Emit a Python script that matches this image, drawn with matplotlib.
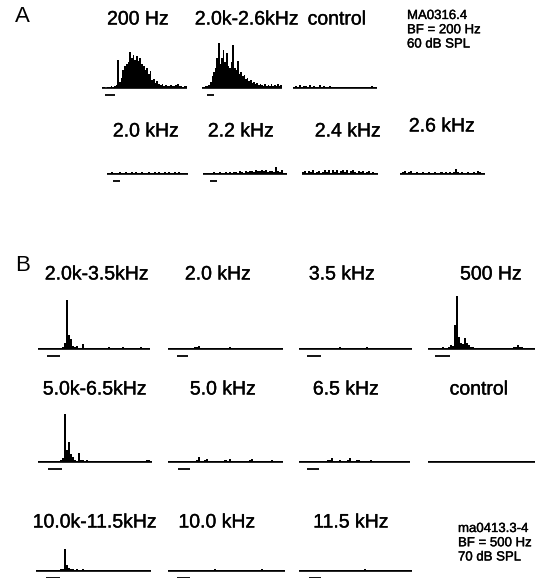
import numpy as np
import matplotlib
matplotlib.use('Agg')
import matplotlib.pyplot as plt
import matplotlib.patheffects as pe

plt.rcParams['font.family'] = ['Liberation Sans', 'DejaVu Sans']

# spike counts per bin (PSTH)
a_200 = [1, 1, 0, 1, 1, 2, 1, 2, 3, 28, 6, 10, 18, 22, 24, 26, 36, 30, 33, 28,
         32, 27, 30, 24, 22, 18, 20, 14, 17, 8, 9, 5, 7, 4, 3, 4, 2, 3, 2, 2,
         3, 2, 2, 3, 4, 2, 2, 1, 2, 2]
a_2026 = [1, 1, 2, 2, 3, 6, 12, 16, 20, 30, 45, 24, 30, 38, 26, 35, 22, 20, 26, 43,
          20, 18, 27, 14, 16, 12, 13, 9, 10, 7, 8, 5, 6, 4, 5, 3, 4, 3, 2, 4,
          2, 3, 2, 4, 2, 3, 2, 4, 2, 3]
a_ctrl = [1, 2, 1, 3, 1, 2, 2, 1, 3, 1, 2, 1, 1, 3, 1, 2, 1, 1, 2, 1,
          1, 1, 1, 1, 1, 1, 1, 1, 1, 1, 1, 1, 1, 1, 1, 1, 1, 1, 1, 2, 1, 1]
a_20 = [1, 1, 2, 1, 1, 1, 2, 1, 1, 2, 1, 1, 2, 1, 2, 1, 1, 2, 1, 1,
        2, 1, 1, 2, 1, 2, 1, 1, 2, 1, 2, 1, 1, 2, 1, 2, 1, 1, 1, 1]
a_22 = [1, 1, 1, 1, 1, 2, 1, 1, 2, 1, 1, 2, 1, 2, 1, 2, 2, 1, 3, 2,
        1, 3, 2, 3, 3, 2, 4, 3, 3, 4, 3, 4, 2, 3, 3, 2, 7, 3, 2, 4, 1, 1]
a_24 = [2, 3, 1, 3, 2, 4, 1, 2, 3, 1, 2, 4, 2, 4, 1, 4, 2, 4, 1, 3,
        4, 2, 4, 1, 3, 4, 2, 1, 3, 2, 3, 1, 2, 3, 1, 2, 1, 1]
a_26 = [1, 2, 3, 1, 2, 3, 1, 1, 2, 1, 1, 2, 1, 1, 2, 1, 1, 2, 1, 1,
        2, 1, 2, 1, 2, 1, 2, 5, 2, 1, 2, 1, 1, 2, 1, 1, 2, 1, 3, 2, 1, 1]

b_2035 = [1, 1, 1, 1, 1, 1, 1, 1, 1, 1, 1, 1, 2, 6, 49, 14, 10, 3, 2, 3,
          1, 1, 5, 1, 1, 1, 1, 1, 1, 1, 1, 1, 1, 1, 1, 2, 1, 1, 1, 1,
          1, 1, 2, 1, 1, 1, 1, 1, 1, 1, 1, 2, 1, 1, 1, 1]
b_20 = [1, 1, 1, 1, 1, 1, 1, 1, 1, 1, 1, 1, 1, 2, 2, 3, 1, 1, 1, 1,
        1, 1, 1, 1, 1, 1, 1, 1, 1, 1, 2, 1, 1, 1, 1, 1, 1, 1, 1, 1,
        1, 1, 1, 1, 1, 1, 1, 1, 1, 1, 1, 1, 1, 1, 1, 1, 1]
b_35 = [1, 1, 1, 1, 1, 1, 1, 1, 1, 1, 1, 1, 1, 1, 1, 1, 1, 1, 1, 1,
        2, 1, 1, 1, 1, 1, 1, 1, 1, 1, 1, 1, 1, 2, 1, 1, 1, 1, 1, 1,
        1, 1, 1, 1, 1, 1, 1, 1, 1, 1, 1, 1, 1, 1, 1, 1]
b_500 = [1, 1, 1, 1, 1, 1, 1, 2, 1, 1, 2, 4, 3, 24, 53, 12, 6, 5, 11, 6,
         4, 2, 2, 1, 1, 1, 1, 1, 1, 1, 1, 1, 1, 1, 1, 1, 1, 1, 1, 1,
         1, 1, 1, 2, 2, 4, 2, 2, 1, 1, 1, 1, 1, 1]
b_5065 = [1, 1, 1, 1, 1, 1, 1, 1, 1, 1, 1, 2, 4, 48, 12, 20, 8, 5, 2, 1,
          9, 2, 2, 1, 2, 1, 1, 1, 1, 1, 1, 1, 1, 1, 1, 1, 1, 1, 1, 1,
          1, 1, 1, 1, 1, 1, 1, 1, 1, 1, 1, 1, 1, 1, 2, 2, 1]
b_50 = [1, 1, 1, 1, 1, 1, 1, 1, 1, 1, 1, 1, 1, 1, 2, 5, 1, 1, 2, 3,
        1, 1, 1, 1, 1, 1, 1, 1, 2, 1, 3, 1, 1, 1, 1, 1, 1, 1, 1, 1,
        2, 3, 1, 1, 1, 1, 1, 1, 1, 1, 1, 2, 1, 1, 1, 1, 1]
b_65 = [1, 1, 1, 1, 1, 1, 1, 1, 1, 1, 1, 1, 1, 1, 2, 2, 4, 1, 1, 1,
        2, 1, 1, 1, 2, 4, 1, 1, 2, 2, 1, 1, 1, 1, 1, 2, 1, 1, 1, 1,
        1, 1, 1, 1, 1, 1, 1, 1, 1, 1, 1, 1, 1, 1, 1]
b_ctrl = [1, 1, 1, 1, 1, 1, 1, 1, 1, 1, 1, 1, 1, 1, 1, 1, 1, 1, 1, 1,
          1, 1, 1, 1, 1, 1, 1, 1, 1, 1, 1, 1, 1, 1, 1, 1, 1, 1, 1, 1,
          1, 1, 1, 1, 1, 1, 1, 1, 1, 1, 1, 1, 1, 1]
b_1011 = [1, 1, 1, 1, 1, 1, 1, 1, 1, 1, 1, 1, 2, 2, 22, 6, 3, 2, 2, 1,
          2, 1, 1, 2, 1, 1, 1, 1, 1, 1, 1, 1, 1, 1, 1, 1, 1, 1, 1, 1,
          1, 1, 1, 1, 1, 1, 1, 1, 1, 1, 1, 1, 1, 1, 1, 1, 1, 1]
b_100 = [1, 1, 1, 1, 1, 1, 1, 1, 1, 1, 1, 1, 1, 1, 1, 1, 1, 1, 1, 1,
         1, 1, 1, 2, 1, 1, 1, 1, 1, 1, 1, 1, 1, 1, 1, 1, 1, 1, 1, 1,
         1, 1, 1, 1, 1, 1, 2, 1, 1, 1, 1, 1, 1, 1, 1, 1, 1, 1]
b_115 = [1, 1, 1, 1, 1, 1, 1, 1, 1, 1, 1, 1, 1, 1, 1, 1, 1, 1, 1, 1,
         1, 1, 1, 1, 1, 1, 1, 1, 1, 1, 1, 1, 2, 1, 1, 1, 1, 1, 1, 1,
         1, 1, 1, 1, 1, 1, 1, 1, 1, 1, 1, 1, 1, 1, 1, 1]

titles = ['200 Hz', '2.0k-2.6kHz', 'control',
          '2.0 kHz', '2.2 kHz', '2.4 kHz', '2.6 kHz',
          '2.0k-3.5kHz', '2.0 kHz', '3.5 kHz', '500 Hz',
          '5.0k-6.5kHz', '5.0 kHz', '6.5 kHz', 'control',
          '10.0k-11.5kHz', '10.0 kHz', '11.5 kHz']
counts = [a_200, a_2026, a_ctrl,
          a_20, a_22, a_24, a_26,
          b_2035, b_20, b_35, b_500,
          b_5065, b_50, b_65, b_ctrl,
          b_1011, b_100, b_115]
# stimulus on/off in bins (None = no stimulus)
stim = [(2, 7.5), (3, 7.5), None,
        (3, 6.5), (3.5, 7), None, None,
        (4.5, 11), (4.5, 10), (4, 11), (3.5, 11),
        (5, 12), (5, 11), (4, 10), None,
        (5, 12), (4.5, 11), (5, 11)]

# layout in pixels: x0, x1, baseline y, title x, title y
layout = [(102, 187, 88, 138, 20), (202, 282, 88, 247, 20), (293, 377, 88, 337, 20),
          (107, 188, 174, 146, 132), (203, 287, 174, 241, 132),
          (302, 378, 174, 348, 132), (400, 485, 174, 442, 127),
          (38, 150, 349, 97, 275), (168, 283, 349, 218, 275),
          (299, 412, 349, 342, 275), (428, 535, 349, 491, 275),
          (38, 152, 462, 95, 390), (168, 283, 462, 223, 390),
          (299, 410, 462, 346, 390), (428, 535, 462, 479, 390),
          (36, 151, 571, 95, 523), (168, 285, 571, 217, 523),
          (299, 412, 571, 351, 523)]

W, H = 538, 578
ABOVE, BELOW = 60, 12
heavy = [pe.withStroke(linewidth=0.25, foreground='black')]

fig = plt.figure(figsize=(W / 100, H / 100), dpi=100)

for vals, st, (x0, x1, base, tx, ty), title in zip(counts, stim, layout, titles):
    ax = fig.add_axes([x0 / W, (H - base - BELOW) / H, (x1 - x0) / W, (ABOVE + BELOW) / H])
    n = len(vals)
    ax.stairs(vals, np.arange(n + 1), fill=True, color='black', baseline=0, lw=0.6)
    ax.plot([0, n], [0, 0], color='black', lw=1.2, solid_capstyle='butt')
    if st is not None:
        ax.plot(st, [-7, -7], color='black', lw=1.3, solid_capstyle='butt')
    ax.set_xlim(0, n)
    ax.set_ylim(-BELOW, ABOVE)
    ax.axis('off')
    fig.text(tx / W, 1 - ty / H, title, fontsize=14, ha='center', va='center',
             path_effects=heavy)

fig.text(15 / W, 1 - 17 / H, 'A', fontsize=16, ha='left', va='center')
fig.text(15 / W, 1 - 266 / H, 'B', fontsize=16, ha='left', va='center')

fig.text(407 / W, 1 - 10 / H, 'MA0316.4\nBF = 200 Hz\n60 dB SPL',
         fontsize=9.5, ha='left', va='top', linespacing=1.25, path_effects=heavy)
fig.text(458 / W, 1 - 523 / H, 'ma0413.3-4\nBF = 500 Hz\n70 dB SPL',
         fontsize=9.5, ha='left', va='top', linespacing=1.25, path_effects=heavy)

fig.savefig('out.png', dpi=100)
